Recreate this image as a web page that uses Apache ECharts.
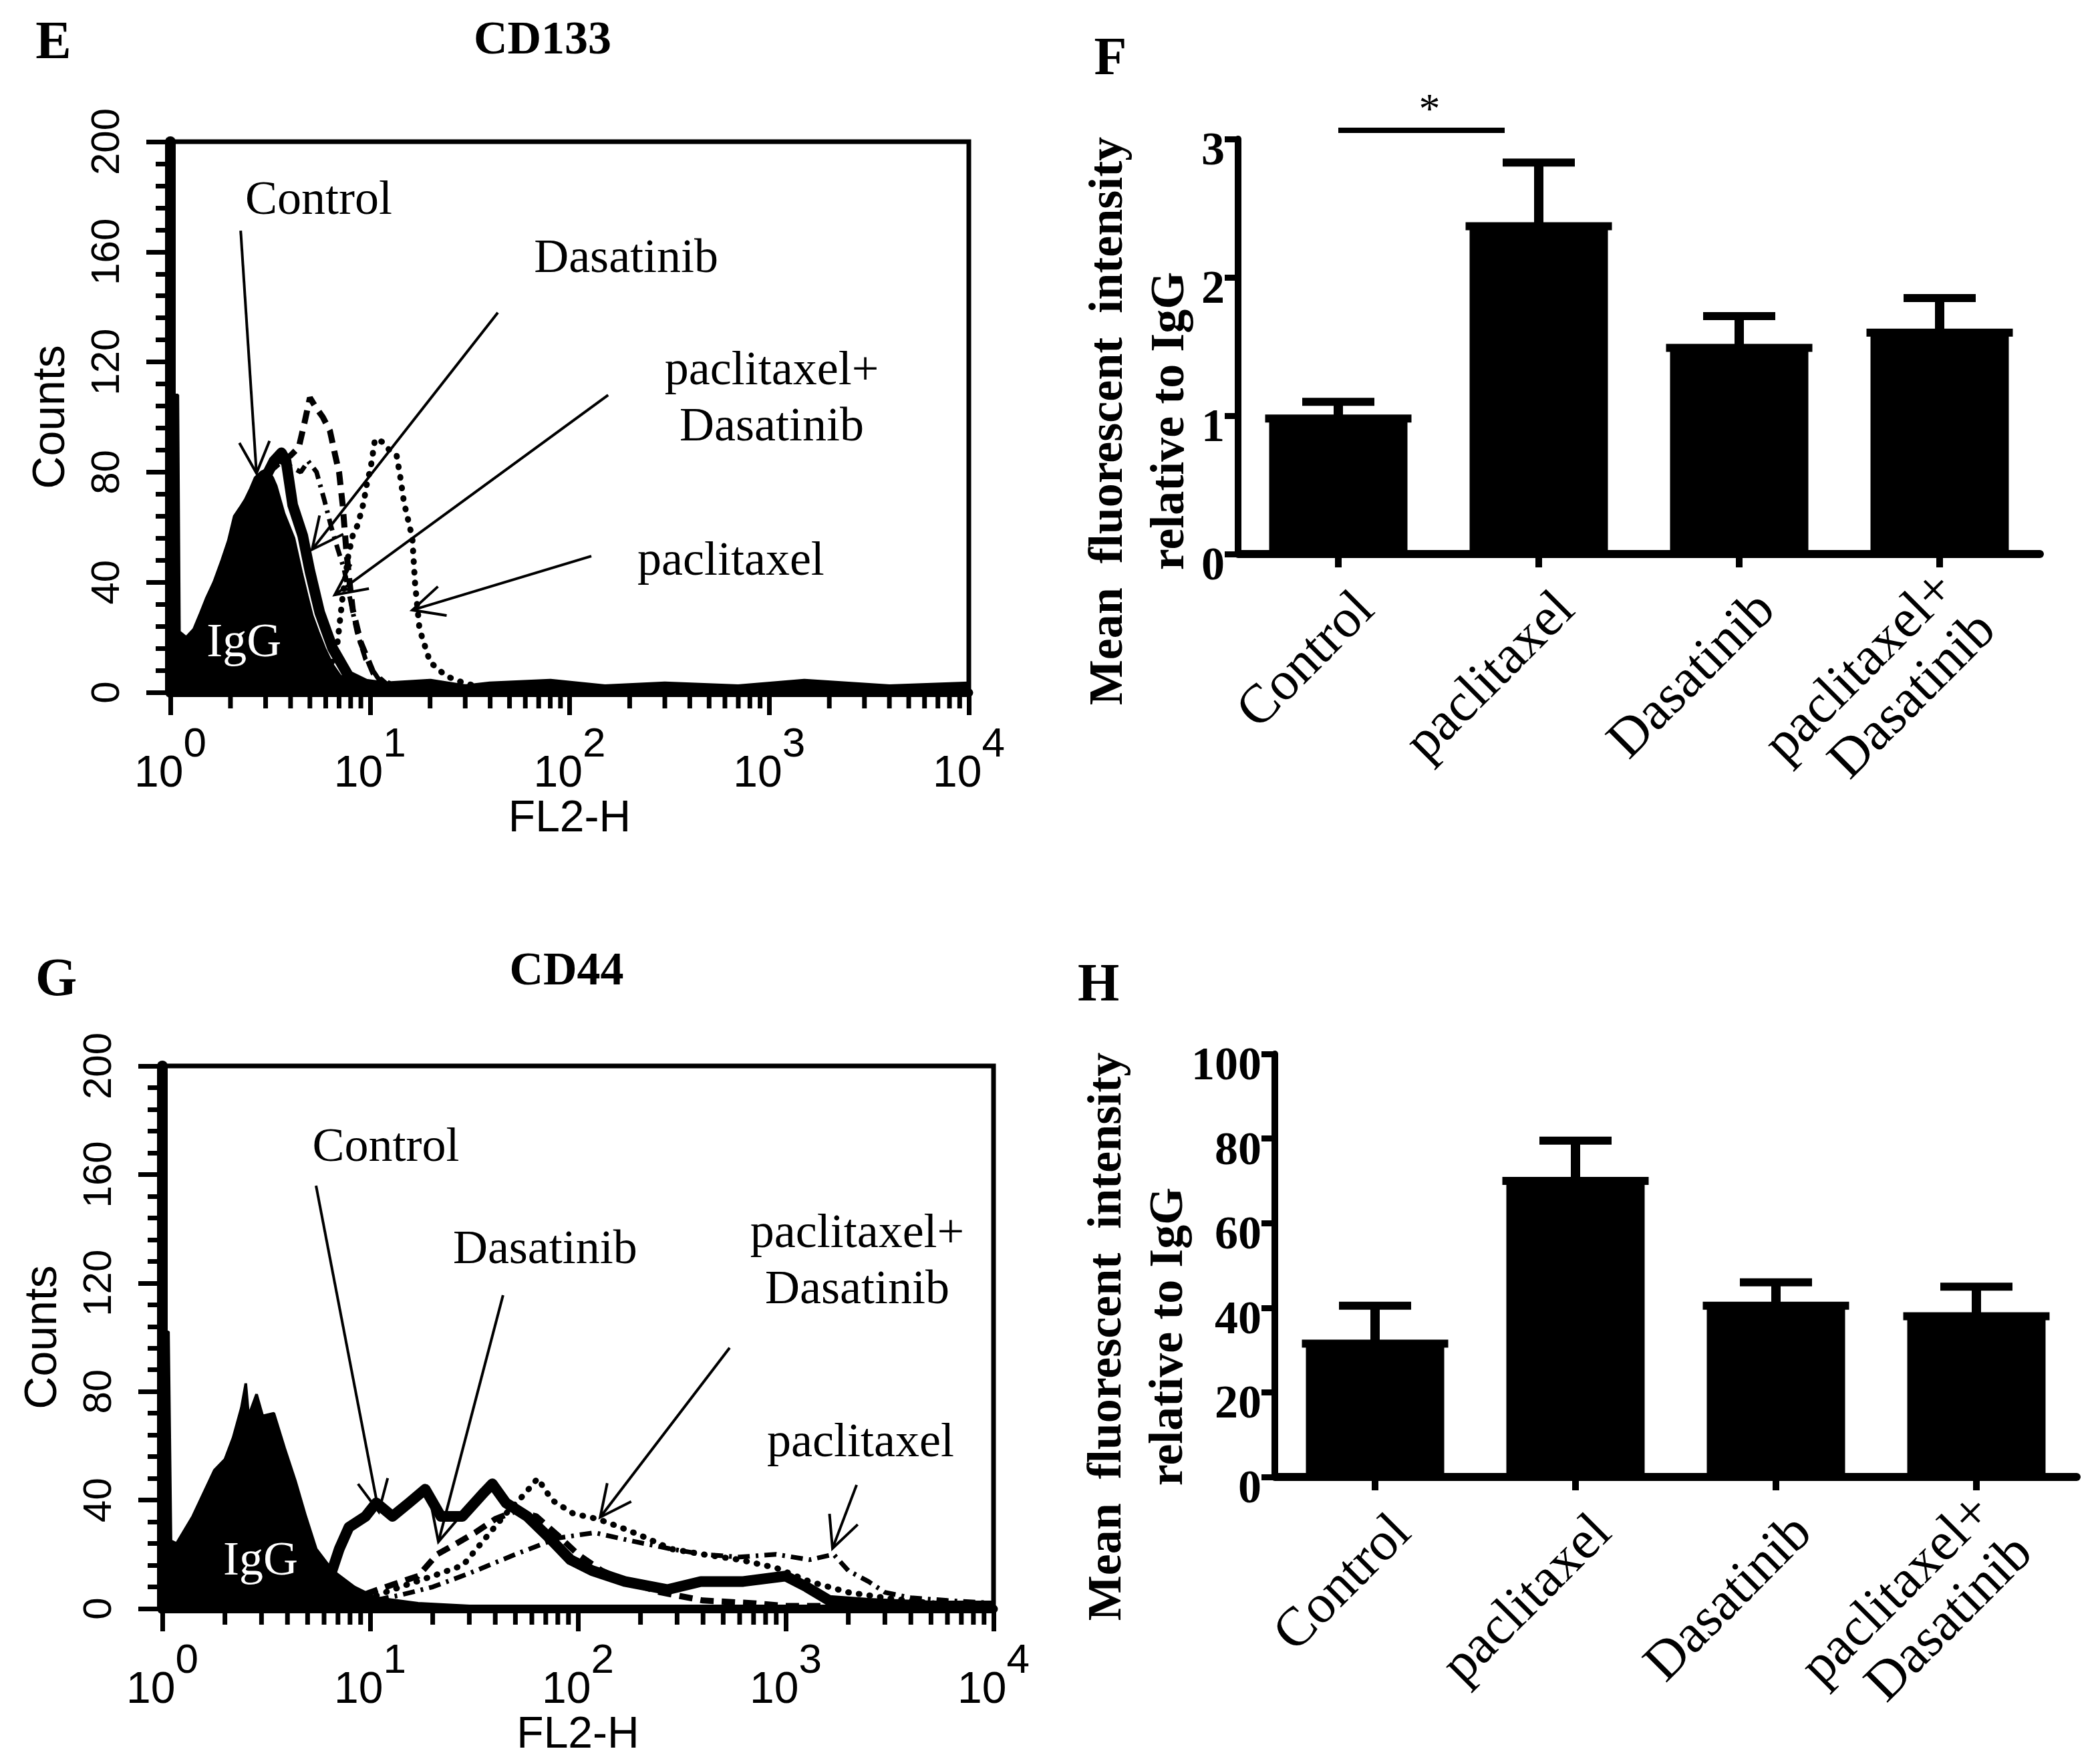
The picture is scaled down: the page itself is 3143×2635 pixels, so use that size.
<!DOCTYPE html>
<html><head><meta charset="utf-8">
<script src="https://cdn.jsdelivr.net/npm/echarts@6/dist/echarts.min.js"></script>
<style>html,body{margin:0;padding:0;background:#fff}#c{width:3143px;height:2635px}</style>
</head><body><div id="c"></div>
<script>
// ---------------- data ----------------
const fl2MinorTicks = [2,3,4,5,6,7,8,9,20,30,40,50,60,70,80,90,200,300,400,500,600,700,800,900,2000,3000,4000,5000,6000,7000,8000,9000];

// CD133 histograms  [FL2-H, counts]
const cd133IgG = [[1.0,108],[1.09,108],[1.11,22],[1.2,20],[1.31,23],[1.4,28],[1.51,34],[1.65,40],[1.81,48],[1.95,55],[2.09,64],[2.23,67],[2.37,70],[2.52,74],[2.66,78],[2.85,80],[3.05,81],[3.25,78],[3.39,75],[3.71,65],[4.16,56],[4.56,43],[4.85,35],[5.13,28],[5.5,22],[5.93,16],[6.5,10],[7.1,6],[8.0,4],[9.0,3],[10,2],[13,2],[20,1.5],[40,1],[100,1],[1000,1],[10000,1]];
const cd133Control = [[1.2,3],[1.5,15],[1.8,35],[2.1,52],[2.5,66],[2.9,76],[3.3,84],[3.6,87],[3.8,84],[4.1,68],[4.6,57],[5.0,44],[5.6,29],[6.5,16],[7.8,6],[9.5,3],[12,2],[20,3],[30,1],[40,2],[80,3],[150,1],[300,2],[700,1],[1500,3],[4000,1],[10000,2]];
const cd133Dasatinib = [[2.5,65],[3.0,78],[3.5,84],[4.0,82],[4.5,80],[4.9,84],[5.4,80],[5.9,70],[6.4,60],[6.9,52],[7.4,45],[8.0,33],[8.6,22],[9.5,12],[11,5],[14,2],[25,1],[100,1],[1000,1],[10000,1]];
const cd133PacDas = [[2.5,66],[3.0,79],[3.6,84],[4.0,86],[4.4,89],[4.7,98],[5.0,107],[5.3,104],[5.8,100],[6.3,95],[6.7,86],[7.0,80],[7.3,68],[7.6,52],[7.9,40],[8.2,30],[9.0,18],[10.4,7],[12,3],[16,2],[30,1],[100,1],[1000,1],[10000,1]];
const cd133Paclitaxel = [[4,1],[5,2],[6,6],[6.8,15],[7.3,35],[7.8,50],[8.2,57],[8.7,61],[9.3,69],[9.6,75],[10.1,82],[10.6,92],[11.5,91],[12.5,88],[13.6,86],[14.2,78],[14.8,69],[15.6,62],[16.3,56],[16.8,40],[17.7,23],[20,11],[24,6],[28,4],[35,2],[60,1],[200,1],[1000,1],[10000,1]];

// CD44 histograms
const cd44IgG = [[1.0,102],[1.07,102],[1.1,25],[1.17,24],[1.4,34],[1.78,51],[2.0,55],[2.19,63],[2.4,74],[2.52,83],[2.6,71],[2.84,79],[3.04,71],[3.44,72],[3.88,59],[4.37,47],[4.9,34],[5.5,22],[6.6,14],[8.4,8],[10.7,4],[17,2],[30,1],[60,1],[100,0.5],[10000,0.5]];
const cd44Control = [[5.5,2],[6.3,10],[7.1,22],[7.9,30],[9.5,34],[10.7,39],[12.8,34],[15.4,39],[18.4,44],[21.9,34],[27.8,34],[35.5,43],[38.7,46],[45,39],[57,34],[73,26],[92,18],[117,14],[168,10],[270,7],[390,10],[624,10],[1000,12],[1260,8],[1620,3],[2500,2],[5000,1],[10000,1]];
const cd44Dasatinib = [[6,1],[8,3],[10,6],[13,9],[17,12],[21,20],[26,24],[32,28],[40,33],[50,36],[63,34],[80,27],[100,20],[130,14],[170,10],[250,6],[400,3],[700,2],[1000,1],[3000,1],[10000,0.5]];
const cd44PacDas = [[6,0.5],[8,2],[10,4],[14,8],[20,12],[28,16],[35,25],[45,35],[55,42],[64,48],[75,40],[95,35],[125,33],[160,30],[200,27],[280,22],[400,20],[600,18],[900,15],[1300,10],[2000,6],[3000,4],[5000,2],[10000,1]];
const cd44Paclitaxel = [[6,0.5],[9,2],[14,5],[20,8],[30,13],[50,20],[80,26],[120,28],[180,25],[280,22],[400,20],[600,19],[900,20],[1300,18],[1700,20],[2000,14],[2500,10],[3000,6],[4000,4],[6000,3],[10000,2]];

// annotation labels (text, [FL2-H, counts])
const cd133LabelTexts = ['Control','Dasatinib','paclitaxel+\nDasatinib','paclitaxel'];
const cd133LabelAt = [[5.53,178.4],[192,157.3],[1030,106.3],[643,47.3]];
const cd133Arrows = [[2.25,167.7,2.70,79.6],[43.7,137.9,5.13,51.9],[156,108,6.66,35.4],[128.5,49.5,16.3,29.9]];
const cd44LabelTexts = ['Control','Dasatinib','paclitaxel+\nDasatinib','paclitaxel'];
const cd44LabelAt = [[11.9,169.7],[69.5,132],[2208,127.6],[2291,60.8]];
const cd44Arrows = [[5.49,155.9,11.0,35.7],[43.6,115.5,21.3,24.6],[537,96.1,128,33.7],[2193,45.6,1679,22.2]];
const igGLabelAt = [[2.34,17.7],[2.97,17.2]];

// bar panels
const groups = ['Control','paclitaxel','Dasatinib','paclitaxel+\nDasatinib'];
const cd133Mean = [0.98, 2.37, 1.49, 1.60];
const cd133Upper = [1.10, 2.83, 1.72, 1.85];
const cd44Mean = [31.5, 70.0, 40.5, 38.0];
const cd44Upper = [40.5, 79.5, 46.0, 45.0];
const sigCD133 = [[0, 1, 3.063]];

// ---------------- chart ----------------
const SERIF = 'Liberation Serif';
const SANS = 'Liberation Sans';
const chart = echarts.init(document.getElementById('c'), null, {width:3143, height:2635});

function histX(gi){
  return {gridIndex:gi, type:'log', logBase:10, min:1, max:10000, splitNumber:4,
    axisLine:{show:true, onZero:false, lineStyle:{color:'#000', width:13}},
    axisTick:{show:true, length:34, lineStyle:{color:'#000', width:7}},
    splitLine:{show:false},
    axisLabel:{showMinLabel:true, showMaxLabel:true, margin:90,
      formatter: v => '{b|10}{s|' + Math.round(Math.log10(v)) + '}',
      rich:{b:{fontFamily:SANS, fontSize:66, color:'#000', verticalAlign:'bottom', lineHeight:66},
            s:{fontFamily:SANS, fontSize:62, color:'#000', verticalAlign:'bottom', lineHeight:66, padding:[0,0,46,0]}}},
    name:'FL2-H', nameLocation:'middle', nameGap:150,
    nameTextStyle:{fontFamily:SANS, fontSize:66, color:'#000'}};
}
function histY(gi){
  return {gridIndex:gi, type:'value', min:0, max:200, interval:40,
    axisLine:{show:true, lineStyle:{color:'#000', width:16}},
    axisTick:{show:true, length:36, lineStyle:{color:'#000', width:7}},
    minorTick:{show:true, splitNumber:5, length:22, lineStyle:{color:'#000', width:7}},
    splitLine:{show:false}, minorSplitLine:{show:false},
    axisLabel:{rotate:90, margin:64, fontFamily:SANS, fontSize:60, color:'#000'},
    name:'Counts', nameLocation:'middle', nameGap:144,
    nameTextStyle:{fontFamily:SANS, fontSize:68, color:'#000'}};
}
function barX(gi){
  return {gridIndex:gi, type:'category', data:groups,
    axisLine:{show:true, lineStyle:{color:'#000', width:12}},
    axisTick:{show:true, alignWithLabel:true, length:20, lineStyle:{color:'#000', width:10}},
    axisLabel:{interval:0, rotate:45, margin:30,
      formatter: v => '{g| }\n' + v.split('\n').map(s => '{t|' + s + '}').join('\n'),
      rich:{g:{fontSize:10, lineHeight:118}, t:{fontFamily:SERIF, fontSize:82, lineHeight:86, color:'#000'}}},
    splitLine:{show:false}};
}
function barY(gi, max, interval){
  return {gridIndex:gi, type:'value', min:0, max:max, interval:interval,
    axisLine:{show:true, lineStyle:{color:'#000', width:10}},
    axisTick:{show:true, length:20, lineStyle:{color:'#000', width:9}},
    splitLine:{show:false},
    axisLabel:{margin:20, fontFamily:SERIF, fontWeight:'bold', fontSize:70, color:'#000', verticalAlign:'top', lineHeight:40}};
}

function lineS(gi, data, lineStyle, extra){
  return Object.assign({type:'line', xAxisIndex:gi, yAxisIndex:gi, data:data, symbol:'none', showSymbol:false,
    silent:true, animation:false, lineStyle:lineStyle}, extra || {});
}
function minorTickSeries(gi){
  return {type:'custom', xAxisIndex:gi, yAxisIndex:gi, silent:true, animation:false, clip:false,
    data: fl2MinorTicks.map(v => [v, 0]),
    renderItem:(p, api) => {
      const pt = api.coord([api.value(0), 0]);
      return {type:'line', shape:{x1:pt[0], y1:pt[1], x2:pt[0], y2:pt[1] + 24}, style:{stroke:'#000', lineWidth:7}};
    }};
}
function arrowSeries(gi, arrows){
  return {type:'custom', xAxisIndex:gi, yAxisIndex:gi, silent:true, animation:false, clip:false, z:5,
    data: arrows,
    renderItem:(p, api) => {
      const a = api.coord([api.value(0), api.value(1)]);
      const b = api.coord([api.value(2), api.value(3)]);
      const ang = Math.atan2(a[1] - b[1], a[0] - b[0]);
      const L = 52, sp = 0.45;
      return {type:'group', children:[
        {type:'line', shape:{x1:a[0], y1:a[1], x2:b[0], y2:b[1]}, style:{stroke:'#000', lineWidth:4}},
        {type:'polyline', shape:{points:[[b[0] + L*Math.cos(ang+sp), b[1] + L*Math.sin(ang+sp)], [b[0], b[1]], [b[0] + L*Math.cos(ang-sp), b[1] + L*Math.sin(ang-sp)]]},
          style:{stroke:'#000', lineWidth:4, fill:null}}
      ]};
    }};
}
function labelSeries(gi, at, texts, color){
  return {type:'custom', xAxisIndex:gi, yAxisIndex:gi, silent:true, animation:false, clip:false, z:6,
    data: at,
    renderItem:(p, api) => {
      const pt = api.coord([api.value(0), api.value(1)]);
      return {type:'text', x:pt[0], y:pt[1], style:{text:texts[p.dataIndex], fontFamily:SERIF, fontSize:72,
        lineHeight:84, fill:color, align:'center', verticalAlign:'middle'}};
    }};
}
function errorSeries(gi, mean, upper){
  return {type:'custom', xAxisIndex:gi, yAxisIndex:gi, silent:true, animation:false, clip:false, z:4,
    data: groups.map((g, i) => [i, mean[i], upper[i]]),
    renderItem:(p, api) => {
      const m = api.coord([api.value(0), api.value(1)]);
      const u = api.coord([api.value(0), api.value(2)]);
      const bw = api.size([1, 0])[0];
      const barW = bw * 0.69, capW = bw * 0.36;
      return {type:'group', children:[
        {type:'rect', shape:{x:m[0] - 7, y:u[1], width:14, height:m[1] - u[1]}, style:{fill:'#000'}},
        {type:'rect', shape:{x:u[0] - capW/2, y:u[1] - 6, width:capW, height:12}, style:{fill:'#000'}},
        {type:'rect', shape:{x:m[0] - barW/2 - 6, y:m[1] - 6, width:barW + 12, height:12}, style:{fill:'#000'}}
      ]};
    }};
}
function sigSeries(gi, sig){
  return {type:'custom', xAxisIndex:gi, yAxisIndex:gi, silent:true, animation:false, clip:false, z:4,
    data: sig,
    renderItem:(p, api) => {
      const a = api.coord([api.value(0), api.value(2)]);
      const b = api.coord([api.value(1), api.value(2)]);
      const bw = api.size([1, 0])[0];
      const x2 = b[0] - bw * 0.17;
      return {type:'group', children:[
        {type:'rect', shape:{x:a[0], y:a[1] - 4, width:x2 - a[0], height:8}, style:{fill:'#000'}},
        {type:'text', x:(a[0] + x2)/2 + 12, y:a[1] - 28, style:{text:'*', fontFamily:SERIF, fontSize:64, fill:'#000', align:'center', verticalAlign:'middle'}}
      ]};
    }};
}

const dashed = {color:'#000', width:9, type:[20,12]};
const dotted = {color:'#000', width:9, type:[1,15], cap:'round'};
const dashDot = {color:'#000', width:7, type:[18,9,4,9]};
const thick = {color:'#000', width:16, join:'round'};

const option = {
  backgroundColor:'#fff',
  animation:false,
  grid:[
    {left:255, top:212, width:1195, height:824, show:true, borderColor:'#000', borderWidth:7, backgroundColor:'transparent'},
    {left:243, top:1595, width:1244, height:812, show:true, borderColor:'#000', borderWidth:7, backgroundColor:'transparent'},
    {left:1853, top:208, width:1200, height:621},
    {left:1908, top:1577, width:1200, height:633}
  ],
  xAxis:[histX(0), histX(1), barX(2), barX(3)],
  yAxis:[histY(0), histY(1), barY(2, 3, 1), barY(3, 100, 20)],
  series:[
    lineS(0, cd133IgG, {color:'#000', width:4}, {areaStyle:{color:'#000', opacity:1}}),
    lineS(0, cd133Paclitaxel, dotted),
    lineS(0, cd133Dasatinib, dashDot),
    lineS(0, cd133PacDas, dashed),
    lineS(0, cd133Control, thick),
    minorTickSeries(0),
    arrowSeries(0, cd133Arrows),
    labelSeries(0, cd133LabelAt, cd133LabelTexts, '#000'),
    labelSeries(0, [igGLabelAt[0]], ['IgG'], '#fff'),

    lineS(1, cd44IgG, {color:'#000', width:4}, {areaStyle:{color:'#000', opacity:1}}),
    lineS(1, cd44PacDas, dotted),
    lineS(1, cd44Paclitaxel, dashDot),
    lineS(1, cd44Dasatinib, dashed),
    lineS(1, cd44Control, thick),
    minorTickSeries(1),
    arrowSeries(1, cd44Arrows),
    labelSeries(1, cd44LabelAt, cd44LabelTexts, '#000'),
    labelSeries(1, [igGLabelAt[1]], ['IgG'], '#fff'),

    {type:'bar', xAxisIndex:2, yAxisIndex:2, data:cd133Mean, barWidth:'69%', itemStyle:{color:'#000'}, silent:true},
    errorSeries(2, cd133Mean, cd133Upper),
    sigSeries(2, sigCD133),
    {type:'bar', xAxisIndex:3, yAxisIndex:3, data:cd44Mean, barWidth:'69%', itemStyle:{color:'#000'}, silent:true},
    errorSeries(3, cd44Mean, cd44Upper)
  ],
  graphic:[
    {type:'text', x:80, y:66, style:{text:'E', fontFamily:SERIF, fontWeight:'bold', fontSize:80, fill:'#000', align:'center', verticalAlign:'middle'}},
    {type:'text', x:812, y:62, style:{text:'CD133', fontFamily:SERIF, fontWeight:'bold', fontSize:70, fill:'#000', align:'center', verticalAlign:'middle'}},
    {type:'text', x:1662, y:90, style:{text:'F', fontFamily:SERIF, fontWeight:'bold', fontSize:80, fill:'#000', align:'center', verticalAlign:'middle'}},
    {type:'text', x:84, y:1468, style:{text:'G', fontFamily:SERIF, fontWeight:'bold', fontSize:80, fill:'#000', align:'center', verticalAlign:'middle'}},
    {type:'text', x:848, y:1455, style:{text:'CD44', fontFamily:SERIF, fontWeight:'bold', fontSize:70, fill:'#000', align:'center', verticalAlign:'middle'}},
    {type:'text', x:1644, y:1476, style:{text:'H', fontFamily:SERIF, fontWeight:'bold', fontSize:80, fill:'#000', align:'center', verticalAlign:'middle'}},
    {type:'text', x:1706, y:630, rotation:Math.PI/2, style:{text:'Mean  fluorescent  intensity\nrelative to IgG', fontFamily:SERIF, fontWeight:'bold', fontSize:72, lineHeight:92, fill:'#000', align:'center', verticalAlign:'middle'}},
    {type:'text', x:1704, y:2000, rotation:Math.PI/2, style:{text:'Mean  fluorescent  intensity\nrelative to IgG', fontFamily:SERIF, fontWeight:'bold', fontSize:72, lineHeight:92, fill:'#000', align:'center', verticalAlign:'middle'}}
  ]
};
chart.setOption(option);
</script></body></html>
